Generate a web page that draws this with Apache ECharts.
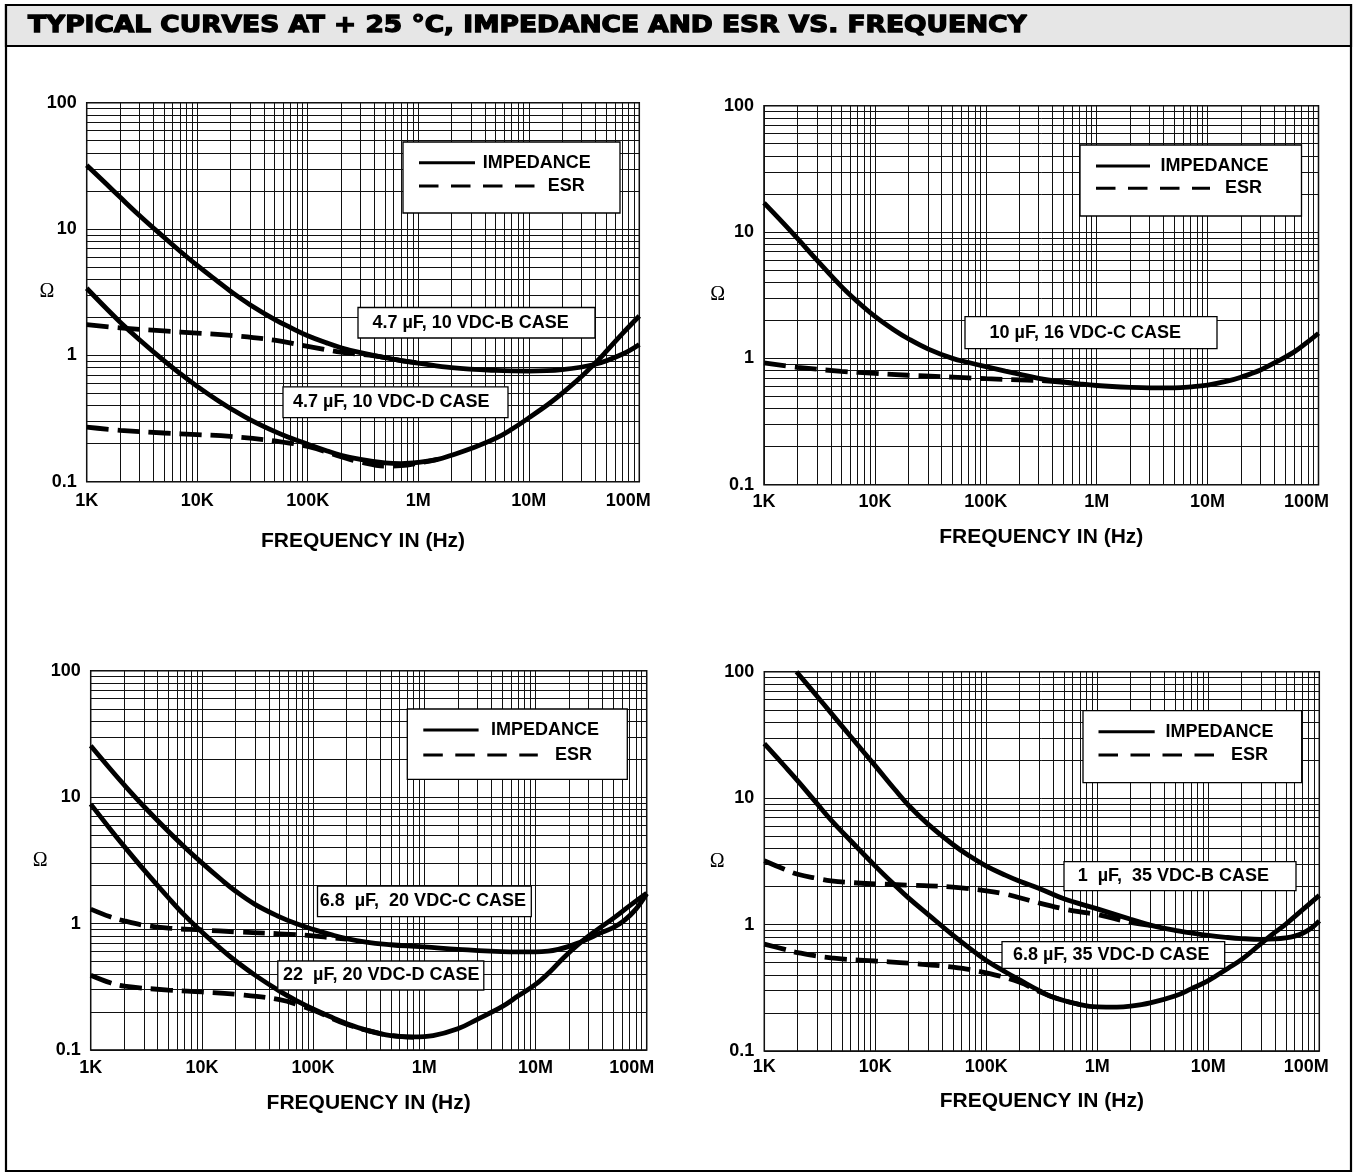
<!DOCTYPE html>
<html><head><meta charset="utf-8">
<script src="https://cdn.jsdelivr.net/npm/echarts@6/dist/echarts.min.js"></script>
<style>html,body{margin:0;padding:0;background:#fff}#c{width:1356px;height:1176px}</style>
</head><body><div id="c"></div>
<script>
// ---------- texts ----------
const titleText = 'TYPICAL CURVES AT + 25 °C, IMPEDANCE AND ESR VS. FREQUENCY';
const xTickLabels = ['1K', '10K', '100K', '1M', '10M', '100M'];
const yTickLabels = ['0.1', '1', '10', '100'];
const xAxisTitle = 'FREQUENCY IN (Hz)';
const yAxisTitle = 'Ω';
const legendNames = ['IMPEDANCE', 'ESR'];
const caseLabels = [
  ['4.7 µF, 10 VDC-B CASE', '4.7 µF, 10 VDC-D CASE'],
  ['10 µF, 16 VDC-C CASE'],
  ['6.8  µF,  20 VDC-C CASE', '22  µF, 20 VDC-D CASE'],
  ['1  µF,  35 VDC-B CASE', '6.8 µF, 35 VDC-D CASE']
];
// log grid: minor multipliers within each decade
const minorSteps = [2, 3, 4, 5, 6, 7, 8, 9];
const xDecades = [1e3, 1e4, 1e5, 1e6, 1e7];
const yDecades = [0.1, 1, 10];

// ---------- data: [frequency Hz, ohms] ----------
// Chart 1: 4.7 uF 10 V
const c1ImpB = [[1e3,32],[1.5e3,22.8],[2e3,17.9],[3e3,12.8],[5e3,8.6],[7e3,6.67],[1e4,5.15],[1.5e4,3.9],[2e4,3.22],[3e4,2.52],[5e4,1.93],[7e4,1.66],[1e5,1.43],[1.5e5,1.25],[2e5,1.15],[3e5,1.05],[5e5,0.96],[7e5,0.91],[1e6,0.87],[2e6,0.8],[5e6,0.76],[1e7,0.75],[2e7,0.77],[4e7,0.85],[7e7,1.02],[1e8,1.22]];
const c1EsrB = [[1e3,1.75],[2e3,1.65],[5e3,1.56],[1e4,1.5],[2e4,1.44],[5e4,1.32],[1e5,1.18],[2e5,1.06],[4e5,0.99],[7e5,0.91],[1e6,0.87]];
const c1ImpD = [[1e3,3.4],[1.5e3,2.36],[2e3,1.84],[3e3,1.33],[5e3,0.908],[7e3,0.718],[1e4,0.568],[1.5e4,0.445],[2e4,0.38],[3e4,0.31],[5e4,0.25],[7e4,0.222],[1e5,0.198],[1.5e5,0.175],[2e5,0.162],[3e5,0.15],[5e5,0.141],[7e5,0.139],[1e6,0.142],[1.5e6,0.15],[2e6,0.162],[3e6,0.183],[5e6,0.22],[7e6,0.26],[1e7,0.32],[1.5e7,0.41],[2e7,0.5],[3e7,0.68],[4e7,0.87],[5e7,1.07],[7e7,1.48],[1e8,2.05]];
const c1EsrD = [[1e3,0.27],[2e3,0.255],[5e3,0.243],[1e4,0.236],[2e4,0.228],[5e4,0.21],[1e5,0.19],[2e5,0.158],[3e5,0.143],[5e5,0.133],[7e5,0.134],[1e6,0.14],[1.5e6,0.15]];
// Chart 2: 10 uF 16 V
const c2ImpC = [[1e3,17],[1.5e3,11.7],[2e3,8.9],[3e3,6.0],[5e3,3.7],[7e3,2.8],[1e4,2.15],[1.5e4,1.67],[2e4,1.43],[3e4,1.19],[5e4,1.0],[7e4,0.927],[1e5,0.86],[1.5e5,0.793],[2e5,0.75],[3e5,0.695],[5e5,0.65],[7e5,0.628],[1e6,0.61],[2e6,0.59],[3e6,0.584],[5e6,0.585],[7e6,0.595],[1e7,0.615],[1.5e7,0.66],[2e7,0.71],[3e7,0.81],[4e7,0.92],[6e7,1.12],[8e7,1.35],[1e8,1.58]];
const c2EsrC = [[1e3,0.92],[2e3,0.85],[5e3,0.79],[1e4,0.76],[2e4,0.735],[5e4,0.71],[1e5,0.69],[2e5,0.675],[3e5,0.668],[5e5,0.645]];
// Chart 3: 6.8 uF 20 V (C) and 22 uF 20 V (D)
const c3ImpC = [[1e3,25.5],[1.5e3,16.7],[2e3,12.5],[3e3,8.47],[5e3,5.35],[7e3,4.02],[1e4,3.02],[1.5e4,2.22],[2e4,1.81],[3e4,1.42],[5e4,1.13],[7e4,1.0],[1e5,0.9],[1.5e5,0.81],[2e5,0.76],[3e5,0.714],[5e5,0.68],[7e5,0.665],[1e6,0.655],[2e6,0.625],[5e6,0.6],[7e6,0.597],[1e7,0.597],[1.3e7,0.605],[1.6e7,0.625],[2e7,0.66],[2.5e7,0.71],[3e7,0.76],[3.7e7,0.83],[5e7,0.93],[6.3e7,1.06],[8e7,1.3],[1e8,1.72]];
const c3EsrC = [[1e3,1.3],[1.5e3,1.13],[2e3,1.05],[3e3,0.97],[5e3,0.92],[1e4,0.89],[2e4,0.86],[5e4,0.83],[1e5,0.8],[1.5e5,0.77],[2e5,0.755]];
const c3ImpD = [[1e3,8.8],[1.5e3,5.58],[2e3,4.08],[3e3,2.67],[5e3,1.6],[7e3,1.16],[1e4,0.857],[1.5e4,0.625],[2e4,0.508],[3e4,0.391],[5e4,0.292],[7e4,0.247],[1e5,0.211],[1.5e5,0.18],[2e5,0.162],[3e5,0.144],[5e5,0.13],[8e5,0.127],[1.2e6,0.13],[2e6,0.147],[3e6,0.175],[5e6,0.22],[7e6,0.268],[1e7,0.33],[1.4e7,0.43],[1.8e7,0.54],[2.5e7,0.7],[3.5e7,0.88],[5e7,1.1],[7e7,1.38],[1e8,1.74]];
const c3EsrD = [[1e3,0.39],[1.5e3,0.34],[2e3,0.32],[5e3,0.298],[1e4,0.288],[2e4,0.276],[5e4,0.25],[8e4,0.222],[1e5,0.207],[2e5,0.16],[4e5,0.135],[6e5,0.128],[8e5,0.126]];
// Chart 4: 1 uF 35 V (B) and 6.8 uF 35 V (D)
const c4ImpB = [[1.95e3,100],[3e3,63.7],[4e3,47],[6e3,30.7],[1e4,18],[1.5e4,11.7],[2e4,8.75],[3e4,6.2],[5e4,4.3],[7e4,3.5],[1e5,2.9],[1.5e5,2.45],[2e5,2.2],[3e5,1.93],[5e5,1.6],[1e6,1.33],[2e6,1.1],[3e6,0.99],[5e6,0.9],[7e6,0.86],[1e7,0.82],[1.5e7,0.79],[2e7,0.775],[3e7,0.765],[4e7,0.77],[5e7,0.785],[6e7,0.81],[7e7,0.85],[8.5e7,0.94],[1e8,1.07]];
const c4EsrB = [[1e3,3.2],[1.5e3,2.75],[2e3,2.5],[3e3,2.32],[4e3,2.22],[6e3,2.15],[1e4,2.1],[2e4,2.05],[5e4,1.98],[1e5,1.85],[1.5e5,1.74],[2e5,1.63],[3e5,1.48],[5e5,1.33],[7e5,1.26],[1e6,1.2],[2e6,1.04],[3e6,0.985]];
const c4ImpD = [[1e3,27],[1.5e3,18.2],[2e3,13.7],[3e3,9],[4e3,6.7],[6e3,4.6],[1e4,2.9],[1.5e4,2.05],[2e4,1.62],[3e4,1.2],[5e4,0.825],[7e4,0.655],[1e5,0.52],[1.5e5,0.42],[2e5,0.365],[3e5,0.3],[4e5,0.266],[7e5,0.233],[1e6,0.223],[1.5e6,0.222],[2e6,0.226],[3e6,0.24],[5e6,0.272],[7e6,0.31],[1e7,0.36],[1.5e7,0.45],[2e7,0.53],[3e7,0.71],[4e7,0.87],[5e7,1.01],[7e7,1.3],[1e8,1.7]];
const c4EsrD = [[1e3,0.7],[1.5e3,0.64],[2e3,0.6],[4e3,0.545],[1e4,0.515],[2e4,0.495],[5e4,0.46],[1e5,0.415],[2e5,0.35],[3e5,0.295],[5e5,0.25],[7e5,0.233]];

const chartSeries = [
  [[c1ImpB, c1EsrB], [c1ImpD, c1EsrD]],
  [[c2ImpC, c2EsrC]],
  [[c3ImpC, c3EsrC], [c3ImpD, c3EsrD]],
  [[c4ImpB, c4EsrB], [c4ImpD, c4EsrD]]
];

// ---------- layout ----------
const FONT = "'Liberation Sans', Arial, Helvetica, sans-serif";
const grids = [
  { left: 86.7, top: 102.7, width: 552.6, height: 379 },
  { left: 764, top: 105.7, width: 554.5, height: 379 },
  { left: 90.7, top: 670.7, width: 556, height: 379.3 },
  { left: 764.3, top: 671.7, width: 555, height: 379.3 }
];
const xLabelMargin = [10, 8, 9, 7];
const xNameGap = [49, 42, 42.5, 40];
const yNameGap = [32.4, 39, 43.2, 39.8];
const yNamePad = [[0, 0, 10, 0], [0, 0, 0, 6], [0, 0, 0, 0], [0, 0, 0, 4]];
const maxLabelShift = [22, 24, 30, 26];
const legendLayouts = [
  { box: [403, 142, 217, 71], solid: [419, 475, 162.7], impX: 482.7, dash: [419, 535, 186], esrX: 547.8 },
  { box: [1080, 145, 221.5, 71], solid: [1096, 1150, 166], impX: 1160.6, dash: [1096, 1210, 188.3], esrX: 1225 },
  { box: [407.3, 709, 220, 70.3], solid: [423.3, 478.6, 730], impX: 491, dash: [423.3, 537.8, 755], esrX: 555 },
  { box: [1083, 710.7, 218.7, 72], solid: [1098.5, 1154.7, 731.7], impX: 1165.5, dash: [1098.5, 1215, 755], esrX: 1231 }
];
const labelLayouts = [
  [{ box: [358, 307.5, 237, 30.5], tx: 372.4 }, { box: [283, 386.8, 225, 30.8], tx: 293 }],
  [{ box: [965, 316.7, 252, 32], tx: 989.5 }],
  [{ box: [317.5, 886, 213.8, 30.7], tx: 319.7 }, { box: [277.8, 961, 206, 29], tx: 283 }],
  [{ box: [1064, 861.7, 232, 29], tx: 1077.7 }, { box: [1002, 941.7, 222.7, 26.6], tx: 1013 }]
];

const xMinor = [];
xDecades.forEach(d => minorSteps.forEach(m => xMinor.push(m * d)));
const yMinor = [];
yDecades.forEach(d => minorSteps.forEach(m => yMinor.push(+(m * d).toPrecision(3))));

const xAxes = [], yAxes = [], series = [], graphics = [];

grids.forEach((g, i) => {
  xAxes.push({
    type: 'log', logBase: 10, min: 1e3, max: 1e8, gridIndex: i,
    axisLine: { show: false }, axisTick: { show: false },
    splitLine: { show: true, lineStyle: { color: '#111', width: 1 } },
    axisLabel: {
      show: true, showMinLabel: true, showMaxLabel: true, margin: xLabelMargin[i],
      color: '#000', fontFamily: FONT, fontWeight: 'bold', fontSize: 18,
      formatter: v => {
        const k = Math.round(Math.log10(v)) - 3;
        const t = xTickLabels[k];
        return k === xTickLabels.length - 1 ? '{r|' + t + '}' : t;
      },
      rich: { r: { padding: [0, maxLabelShift[i], 0, 0], color: '#000', fontFamily: FONT, fontWeight: 'bold', fontSize: 18 } }
    },
    name: xAxisTitle, nameLocation: 'middle', nameGap: xNameGap[i],
    nameTextStyle: { color: '#000', fontFamily: FONT, fontWeight: 'bold', fontSize: 21 }
  });
  yAxes.push({
    type: 'log', logBase: 10, min: 0.1, max: 100, gridIndex: i,
    axisLine: { show: false }, axisTick: { show: false },
    splitLine: { show: true, lineStyle: { color: '#111', width: 1 } },
    axisLabel: {
      show: true, showMinLabel: true, showMaxLabel: true, margin: 10,
      color: '#000', fontFamily: FONT, fontWeight: 'bold', fontSize: 18,
      formatter: v => yTickLabels[Math.round(Math.log10(v)) + 1]
    },
    name: yAxisTitle, nameLocation: 'middle', nameRotate: 0, nameGap: yNameGap[i], nameMoveOverlap: false,
    nameTextStyle: { color: '#000', fontFamily: "'Liberation Serif', 'DejaVu Serif', serif", fontSize: 20, padding: yNamePad[i] }
  });
  // minor log grid lines
  series.push({
    type: 'line', xAxisIndex: i, yAxisIndex: i, data: [], silent: true, z: 1,
    markLine: {
      silent: true, z: 1, animation: false, symbol: ['none', 'none'],
      label: { show: false }, emphasis: { disabled: true },
      lineStyle: { color: '#111', width: 1, type: 'solid' },
      data: xMinor.map(v => ({ xAxis: v })).concat(yMinor.map(v => ({ yAxis: v })))
    }
  });
  chartSeries[i].forEach(pair => {
    pair.forEach((d, k) => {
      series.push({
        type: 'line', name: legendNames[k], data: d, xAxisIndex: i, yAxisIndex: i,
        smooth: 0.4, symbol: 'none', showSymbol: false, silent: true, z: 3, clip: true,
        lineStyle: { color: '#000', width: 4.8, type: k === 0 ? 'solid' : [22, 9], cap: 'butt' },
        emphasis: { disabled: true }
      });
    });
  });

  // legend box
  const L = legendLayouts[i];
  graphics.push({ type: 'rect', z: 100, shape: { x: L.box[0], y: L.box[1], width: L.box[2], height: L.box[3] }, style: { fill: '#fff', stroke: '#000', lineWidth: 1.3 } });
  graphics.push({ type: 'line', z: 101, shape: { x1: L.solid[0], y1: L.solid[2], x2: L.solid[1], y2: L.solid[2] }, style: { stroke: '#000', lineWidth: 3 } });
  graphics.push({ type: 'line', z: 101, shape: { x1: L.dash[0], y1: L.dash[2], x2: L.dash[1], y2: L.dash[2] }, style: { stroke: '#000', lineWidth: 3, lineDash: [19.5, 12.5] } });
  graphics.push({ type: 'text', z: 101, x: L.impX, y: L.solid[2], style: { text: legendNames[0], fill: '#000', fontFamily: FONT, fontWeight: 'bold', fontSize: 18, align: 'left', verticalAlign: 'middle' } });
  graphics.push({ type: 'text', z: 101, x: L.esrX, y: L.dash[2], style: { text: legendNames[1], fill: '#000', fontFamily: FONT, fontWeight: 'bold', fontSize: 18, align: 'left', verticalAlign: 'middle' } });
  // case labels
  labelLayouts[i].forEach((b, k) => {
    graphics.push({ type: 'rect', z: 100, shape: { x: b.box[0], y: b.box[1], width: b.box[2], height: b.box[3] }, style: { fill: '#fff', stroke: '#000', lineWidth: 1.3 } });
    graphics.push({ type: 'text', z: 101, x: b.tx, y: b.box[1] + b.box[3] / 2, style: { text: caseLabels[i][k], fill: '#000', fontFamily: FONT, fontWeight: 'bold', fontSize: 18, align: 'left', verticalAlign: 'middle' } });
  });
});

// frame and title banner
graphics.push({ type: 'rect', z: 90, shape: { x: 6, y: 5, width: 1345, height: 1166 }, style: { fill: 'none', stroke: '#000', lineWidth: 2.2 } });
graphics.push({ type: 'rect', z: 90, shape: { x: 6, y: 5, width: 1345, height: 41 }, style: { fill: '#e6e6e6', stroke: '#000', lineWidth: 2.2 } });
graphics.push({ type: 'text', z: 91, x: 28, y: 26, scaleX: 1.15, style: { text: titleText, fill: '#000', stroke: '#000', lineWidth: 1.3, fontFamily: "'DejaVu Sans', sans-serif", fontWeight: 'bold', fontSize: 23, align: 'left', verticalAlign: 'middle' } });

const chart = echarts.init(document.getElementById('c'), null, { renderer: 'canvas' });
chart.setOption({
  animation: false,
  backgroundColor: '#fff',
  textStyle: { fontFamily: FONT },
  grid: grids.map(g => Object.assign({ show: true, borderColor: '#000', borderWidth: 1.5, backgroundColor: 'transparent', containLabel: false }, g)),
  xAxis: xAxes,
  yAxis: yAxes,
  series: series,
  graphic: { elements: graphics }
});
</script>
</body></html>
